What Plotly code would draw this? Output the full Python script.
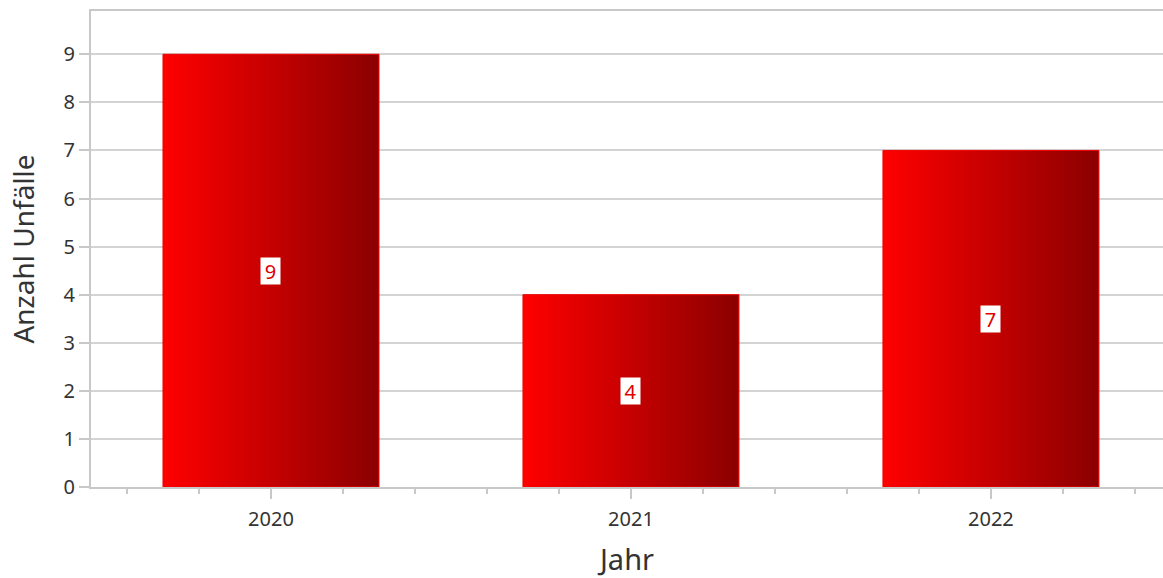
import plotly.graph_objects as go

years = ["2020", "2021", "2022"]
accidents = [9, 4, 7]

bar_half = 0.3
grad = [[0, "#FF0000"], [1, "#8B0000"]]
font_fam = "Noto Sans"

fig = go.Figure()
for i, (yr, v) in enumerate(zip(years, accidents)):
    xs = [i - bar_half, i + bar_half, i + bar_half, i - bar_half, i - bar_half]
    ys = [0, 0, v, v, 0]
    fig.add_trace(go.Scatter(
        x=xs, y=ys, mode="lines", fill="toself",
        fillgradient=dict(type="horizontal", colorscale=grad),
        line=dict(color="#F00000", width=1),
        hoverinfo="skip", showlegend=False,
    ))
    fig.add_annotation(
        x=i, y=v / 2, text=str(v), showarrow=False,
        font=dict(family=font_fam, size=20, color="#E00000"),
        bgcolor="white", borderpad=0, width=19, height=26,
    )

fig.update_layout(
    width=1163, height=578,
    margin=dict(l=91, r=0, t=11, b=91),
    paper_bgcolor="white", plot_bgcolor="white",
    font=dict(family=font_fam, color="#333333"),
    xaxis=dict(
        range=[-0.5, 2.478],
        tickmode="array", tickvals=list(range(len(years))), ticktext=years,
        showgrid=False, zeroline=False,
        showline=True, linecolor="#C8C8C8", linewidth=2, mirror=True,
        ticks="outside", ticklen=10, tickwidth=2, tickcolor="#C8C8C8",
        ticklabelstandoff=3,
        tickfont=dict(size=20, color="#333333"),
        minor=dict(tickmode="linear", tick0=0, dtick=0.2, ticks="outside",
                   ticklen=5, tickwidth=2, tickcolor="#C8C8C8", showgrid=False),
        title=dict(text="Jahr", font=dict(size=29, color="#333333"), standoff=20),
    ),
    yaxis=dict(
        range=[0, 9.9], dtick=1,
        showgrid=True, gridcolor="#D3D3D3", gridwidth=2,
        zeroline=False,
        showline=True, linecolor="#C8C8C8", linewidth=2,
        ticks="outside", ticklen=10, tickwidth=2, tickcolor="#C8C8C8",
        tickfont=dict(size=20, color="#333333"),
        title=dict(text="Anzahl Unfälle", font=dict(size=28, color="#333333"), standoff=21),
    ),
)

fig.write_html("out.html", config={"displayModeBar": False},
               post_script="document.body.style.margin='0';")
